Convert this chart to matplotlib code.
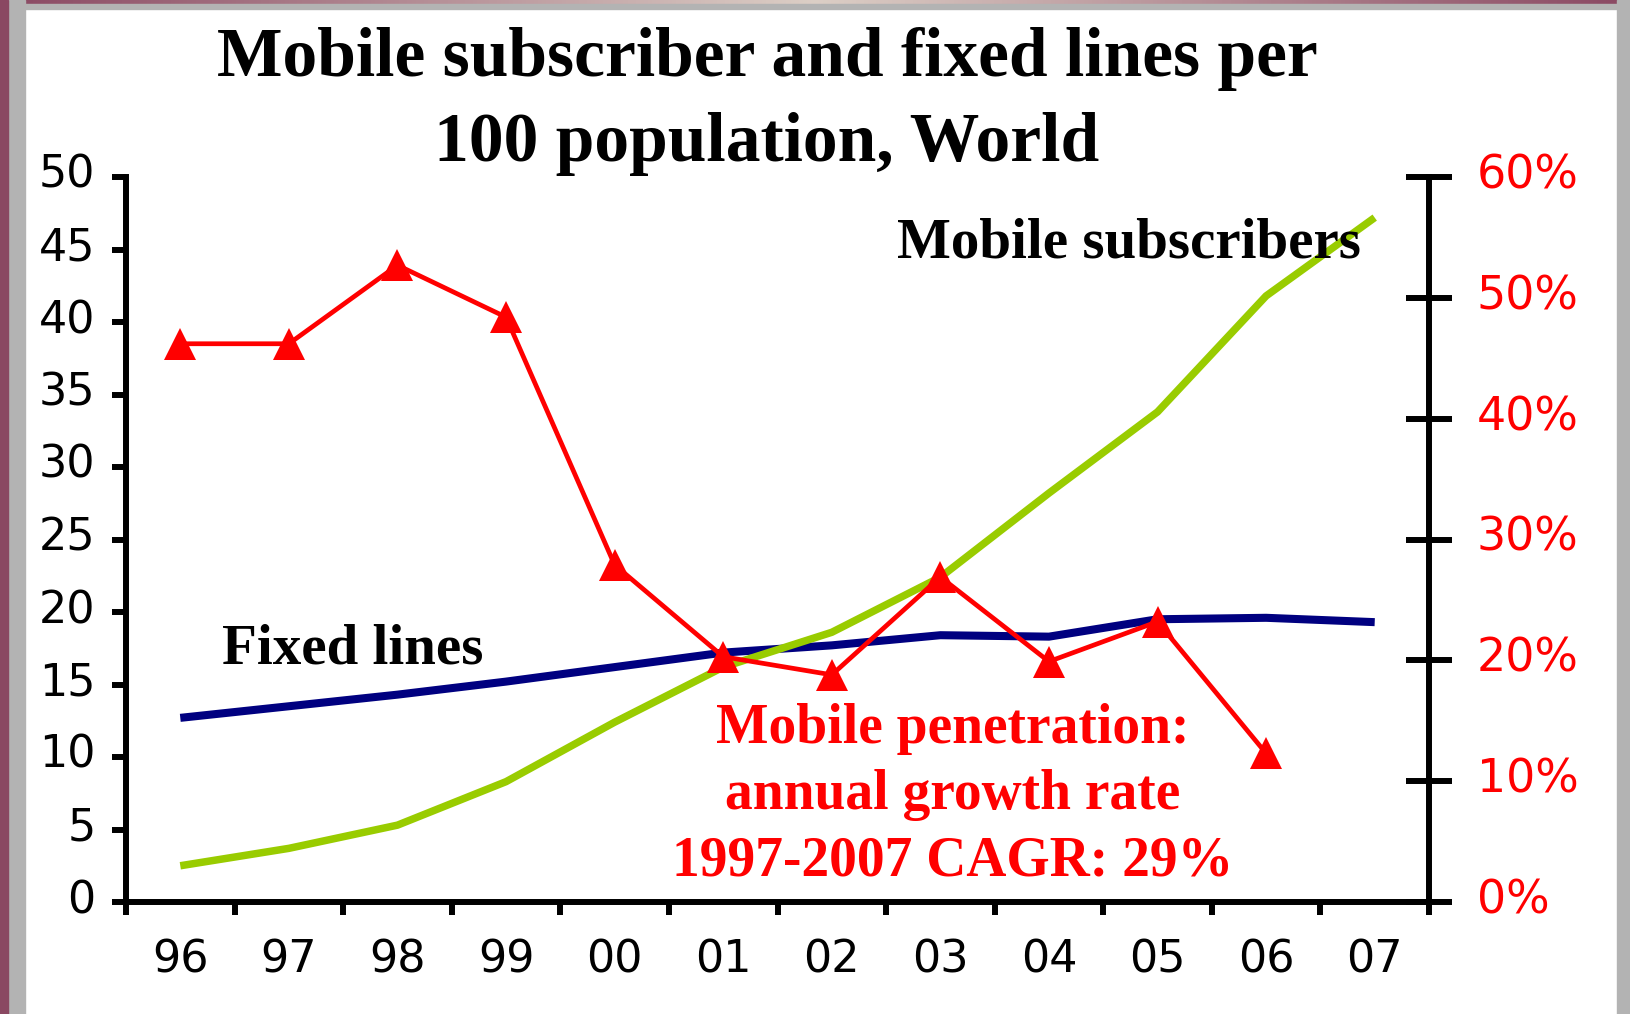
import numpy as np
import matplotlib
matplotlib.use('Agg')
import matplotlib.pyplot as plt
import matplotlib.transforms as mtransforms
from matplotlib.patches import Rectangle

# data
years = ['96', '97', '98', '99', '00', '01', '02', '03', '04', '05', '06', '07']
mobile = [2.5, 3.7, 5.3, 8.3, 12.4, 16.2, 18.6, 22.4, 28.2, 33.8, 41.8, 47.2]
fixed = [12.7, 13.5, 14.3, 15.2, 16.2, 17.2, 17.7, 18.4, 18.3, 19.5, 19.6, 19.3]
growth = [0.462, 0.462, 0.527, 0.484, 0.279, 0.203, 0.188, 0.269, 0.199, 0.232, 0.123]
left_ticks = [0, 5, 10, 15, 20, 25, 30, 35, 40, 45, 50]
right_ticks = [0, 0.1, 0.2, 0.3, 0.4, 0.5, 0.6]
right_labels = ['0%', '10%', '20%', '30%', '40%', '50%', '60%']

W, H = 1630, 1014
GREEN = '#99cc00'
NAVY = '#000080'
RED = '#ff0000'
SANS = 'DejaVu Sans'
SERIF = 'Liberation Serif'

def fx(px):
    return px / W

def fy(py):
    return 1 - py / H

fig = plt.figure(figsize=(W / 100, H / 100), dpi=100)
fig.patch.set_facecolor('white')

# frame around the picture
fig.patches.append(Rectangle((fx(8), 0), fx(17), 1, transform=fig.transFigure, color='#b3b3b3', zorder=0))
fig.patches.append(Rectangle((fx(1617), 0), fx(13), 1, transform=fig.transFigure, color='#b3b3b3', zorder=0))
fig.patches.append(Rectangle((0, fy(9)), 1, 5 / H, transform=fig.transFigure, color='#b3b3b3', zorder=0))
fig.patches.append(Rectangle((0, 0), fx(8), 1, transform=fig.transFigure, color='#8a4862', zorder=1))
top = fig.add_axes([0, fy(4), 1, 4 / H])
top.axis('off')
c1 = np.array([0x8a, 0x48, 0x62]) / 255
c2 = np.array([0xdc, 0xcf, 0xc6]) / 255
t = np.abs(np.linspace(-1, 1, 400))[None, :, None]
top.imshow(c2 * (1 - t) + c1 * t, aspect='auto', extent=[0, 1, 0, 1])

ax = fig.add_axes([fx(126), fy(902), fx(1429 - 126), (902 - 177) / H])
ax2 = ax.twinx()

x = np.arange(len(years)) + 0.5
ax.plot(x, fixed, color=NAVY, lw=5.8, solid_capstyle='butt', zorder=3)
ax.plot(x, mobile, color=GREEN, lw=5.4, solid_capstyle='butt', zorder=4)
ax2.plot(x[:len(growth)], growth, color=RED, lw=3.4, marker='^', markersize=23,
         markeredgewidth=0, zorder=5)

ax.set_xlim(0, 12)
ax.set_ylim(0, 50)
ax2.set_ylim(0, 0.6)

for s in ['top', 'right']:
    ax.spines[s].set_visible(False)
for s in ['top', 'left', 'bottom']:
    ax2.spines[s].set_visible(False)
for s in ['left', 'bottom']:
    ax.spines[s].set_linewidth(4.3)
ax2.spines['right'].set_linewidth(4.3)

ax.set_xticks(np.arange(13))
ax.set_xticklabels([])
ax.set_xticks(x, minor=True)
ax.set_xticklabels(years, minor=True, fontsize=32, family=SANS)
ax.tick_params(axis='x', which='major', length=9, width=4.3, direction='out')
ax.tick_params(axis='x', which='minor', length=0, pad=26)

ax.set_yticks(left_ticks)
ax.set_yticklabels([str(v) for v in left_ticks], fontsize=32, family=SANS)
ax.tick_params(axis='y', length=10, width=4.3, pad=12)

ax2.set_yticks(right_ticks)
ax2.set_yticklabels(right_labels, fontsize=33, family=SANS, color=RED)
ax2.tick_params(axis='y', direction='inout', length=33, width=4.3, pad=18)

up = mtransforms.ScaledTranslation(0, 6 / 100, fig.dpi_scale_trans)
for lab in ax.get_yticklabels() + ax2.get_yticklabels():
    lab.set_transform(lab.get_transform() + up)

# title and labels
fig.text(fx(767), fy(76), 'Mobile subscriber and fixed lines per', ha='center', va='baseline',
         fontsize=50, fontweight='bold', family=SERIF)
fig.text(fx(767), fy(161), '100 population, World', ha='center', va='baseline',
         fontsize=50, fontweight='bold', family=SERIF)
fig.text(fx(897), fy(258), 'Mobile subscribers', ha='left', va='baseline',
         fontsize=41, fontweight='bold', family=SERIF, zorder=10)
fig.text(fx(222), fy(664), 'Fixed lines', ha='left', va='baseline',
         fontsize=41, fontweight='bold', family=SERIF)
red_lines = ['Mobile penetration:', 'annual growth rate', '1997-2007 CAGR: 29%']
for i, line in enumerate(red_lines):
    fig.text(fx(953), fy(743 + 66 * i), line, ha='center', va='baseline',
             fontsize=40, fontweight='bold', family=SERIF, color=RED)

fig.savefig('out.png', dpi=100, facecolor=fig.get_facecolor())
